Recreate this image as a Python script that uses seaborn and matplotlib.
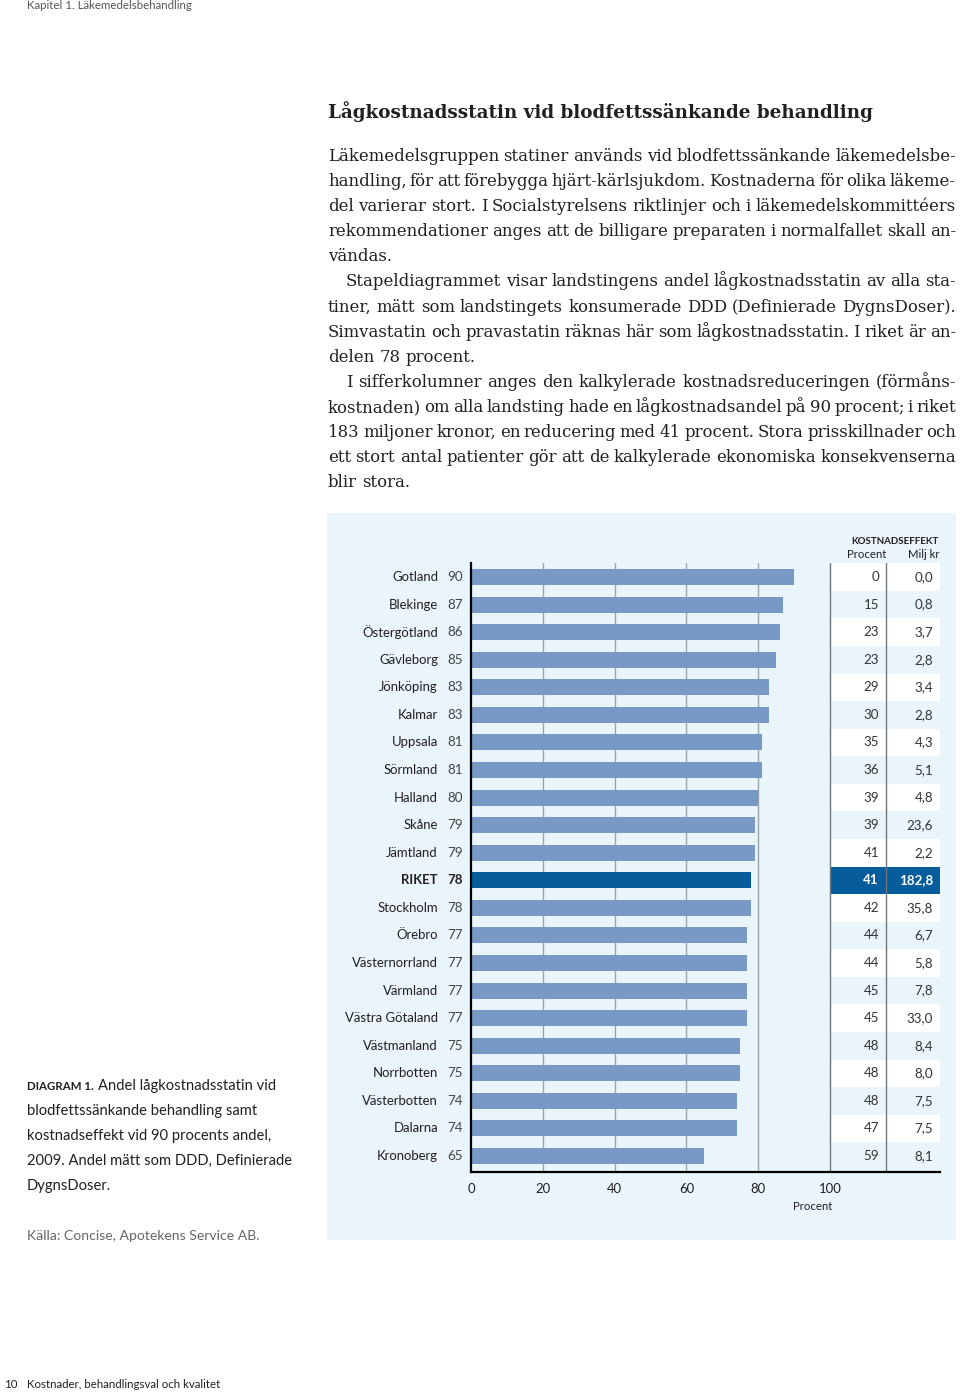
import matplotlib
matplotlib.use("Agg")
import matplotlib.pyplot as plt
import seaborn as sns
import pandas as pd
from matplotlib.patches import Rectangle

# ---------------- data ----------------
regions = ["Gotland", "Blekinge", "Östergötland", "Gävleborg", "Jönköping", "Kalmar",
           "Uppsala", "Sörmland", "Halland", "Skåne", "Jämtland", "RIKET", "Stockholm",
           "Örebro", "Västernorrland", "Värmland", "Västra Götaland", "Västmanland",
           "Norrbotten", "Västerbotten", "Dalarna", "Kronoberg"]
andel = [90, 87, 86, 85, 83, 83, 81, 81, 80, 79, 79, 78, 78, 77, 77, 77, 77, 75, 75, 74, 74, 65]
kost_procent = [0, 15, 23, 23, 29, 30, 35, 36, 39, 39, 41, 41, 42, 44, 44, 45, 45, 48, 48, 48, 47, 59]
kost_milj = [0.0, 0.8, 3.7, 2.8, 3.4, 2.8, 4.3, 5.1, 4.8, 23.6, 2.2, 182.8, 35.8, 6.7, 5.8,
             7.8, 33.0, 8.4, 8.0, 7.5, 7.5, 8.1]
xticks = [0, 20, 40, 60, 80, 100]
highlight = "RIKET"

title = "Lågkostnadsstatin vid blodfettssänkande behandling"
body_lines = [
    ("Läkemedelsgruppen statiner används vid blodfettssänkande läkemedelsbe-", False, True),
    ("handling, för att förebygga hjärt-kärlsjukdom. Kostnaderna för olika läkeme-", False, True),
    ("del varierar stort. I Socialstyrelsens riktlinjer och i läkemedelskommittéers", False, True),
    ("rekommendationer anges att de billigare preparaten i normalfallet skall an-", False, True),
    ("vändas.", False, False),
    ("Stapeldiagrammet visar landstingens andel lågkostnadsstatin av alla sta-", True, True),
    ("tiner, mätt som landstingets konsumerade DDD (Definierade DygnsDoser).", False, True),
    ("Simvastatin och pravastatin räknas här som lågkostnadsstatin. I riket är an-", False, True),
    ("delen 78 procent.", False, False),
    ("I sifferkolumner anges den kalkylerade kostnadsreduceringen (förmåns-", True, True),
    ("kostnaden) om alla landsting hade en lågkostnadsandel på 90 procent; i riket", False, True),
    ("183 miljoner kronor, en reducering med 41 procent. Stora prisskillnader och", False, True),
    ("ett stort antal patienter gör att de kalkylerade ekonomiska konsekvenserna", False, True),
    ("blir stora.", False, False),
]
caption_lead = "DIAGRAM 1."
caption_lines = ["Andel lågkostnadsstatin vid", "blodfettssänkande behandling samt",
                 "kostnadseffekt vid 90 procents andel,", "2009. Andel mätt som DDD, Definierade",
                 "DygnsDoser."]
source = "Källa: Concise, Apotekens Service AB."
header = "Kapitel 1. Läkemedelsbehandling"
footer_page = "10"
footer = "Kostnader, behandlingsval och kvalitet"

# ---------------- style ----------------
sns.set_theme(style="white")
SANS = ["Lato", "DejaVu Sans"]
SERIF = ["DejaVu Serif"]
plt.rcParams["font.family"] = SANS

BG = "#eaf4fb"
BAR = "#7898c6"
DARK = "#075c9c"
TXT = "#231f20"
GRID = "#9aa3ac"

W, H = 960, 1393
fig = plt.figure(figsize=(W / 100, H / 100), dpi=100, facecolor="white")
renderer = fig.canvas.get_renderer()


def fx(px):
    return px / W


def fy(py):
    return 1 - py / H


def measure(s, **kw):
    t = fig.text(0, 0, s, **kw)
    w = t.get_window_extent(renderer).width
    t.remove()
    return w


def fit_size(s, width_px, base=10, **kw):
    return base * width_px / measure(s, size=base, **kw)


# panel background
fig.patches.append(Rectangle((fx(327), fy(1240)), fx(956) - fx(327), (1240 - 513) / H,
                             transform=fig.transFigure, facecolor=BG, edgecolor="none", zorder=-10))

# ---------------- chart ----------------
df = pd.DataFrame({"region": regions, "andel": andel,
                   "grp": ["h" if r == highlight else "n" for r in regions]})

ax = fig.add_axes([fx(471), 221 / H, (940 - 471) / W, (1172 - 563) / H])
ax.set_zorder(5)
ax.set_facecolor("none")
XMAX = 100 * (940 - 471) / (830 - 471)

sns.barplot(data=df, x="andel", y="region", hue="grp", palette={"n": BAR, "h": DARK},
            dodge=False, legend=False, width=0.58, linewidth=0, saturation=1, ax=ax, zorder=2)

n = len(regions)
ax.set_xlim(0, XMAX)
ax.set_ylim(n - 1 + 0.58, -0.51)

# grid lines
for t in xticks[1:-1]:
    ax.plot([t, t], [n - 1 + 0.58, -0.51], color=GRID, lw=1, zorder=1)

# table bands
DIV = 100 + (886 - 830) / 3.59
for i, r in enumerate(regions):
    if r == highlight:
        c = DARK
    else:
        c = "white" if i % 2 == 0 else BG
    top = -0.51 if i == 0 else i - 0.5
    bot = n - 1 + 0.58 if i == n - 1 else i + 0.5
    ax.add_patch(Rectangle((100, top), XMAX - 100, bot - top, facecolor=c, edgecolor="none", zorder=0.5))
for xv in (100, DIV):
    ax.plot([xv, xv], [n - 1 + 0.58, -0.51], color="#6e767e", lw=1, zorder=3)

for s in ("top", "right"):
    ax.spines[s].set_visible(False)
for s in ("left", "bottom"):
    ax.spines[s].set_color("black")
    ax.spines[s].set_linewidth(1.6)
    ax.spines[s].set_zorder(4)

lab_size = fit_size("Östergötland", 76, family=SANS)
num_size = lab_size * 1.02
ax.set_xticks(xticks)
ax.set_xticklabels([str(t) for t in xticks])
ax.tick_params(axis="x", length=0, pad=8, labelsize=lab_size, labelcolor=TXT)
ax.set_yticks([])
ax.set_xlabel("")
ax.set_ylabel("")

for i, (r, v, p, m) in enumerate(zip(regions, andel, kost_procent, kost_milj)):
    hl = r == highlight
    wt = "bold" if hl else "normal"
    ax.annotate(r, xy=(0, i), xytext=(-33, 0), textcoords="offset pixels", ha="right",
                va="center", size=lab_size, color=TXT, weight=wt)
    ax.annotate(str(v), xy=(0, i), xytext=(-8, 0), textcoords="offset pixels", ha="right",
                va="center", size=num_size, color=TXT if hl else "#444444", weight=wt)
    tc = "white" if hl else "#333333"
    ax.annotate(str(p), xy=(100, i), xytext=(49, 0), textcoords="offset pixels", ha="right",
                va="center", size=num_size, color=tc, weight=wt)
    ax.annotate(f"{m:.1f}".replace(".", ","), xy=(100, i), xytext=(103, 0),
                textcoords="offset pixels", ha="right", va="center", size=num_size,
                color=tc, weight=wt)

# table header
fig.text(fx(939), fy(541), "KOSTNADSEFFEKT", ha="right", va="center", size=lab_size * 0.74,
         weight="bold", color=TXT)
fig.text(fx(867), fy(554), "Procent", ha="center", va="center", size=lab_size * 0.87, color=TXT)
fig.text(fx(939), fy(554), "Milj kr", ha="right", va="center", size=lab_size * 0.87, color=TXT)
fig.text(fx(813), fy(1207), "Procent", ha="center", va="center", size=lab_size * 0.87, color=TXT)

# ---------------- text ----------------
title_size = fit_size(title, 547, family=SERIF, weight="bold")
fig.text(fx(328), fy(118), title, ha="left", va="baseline", size=title_size,
         family=SERIF, weight="bold", color=TXT)

X0, X1, IND = 328, 956, 346


def layout(size):
    sp = measure("a a", size=size, family=SERIF) - 2 * measure("a", size=size, family=SERIF)
    rows = []
    min_rel = 10.0
    for line, ind, just in body_lines:
        x = IND if ind else X0
        words = line.split(" ")
        widths = [measure(w, size=size, family=SERIF) for w in words]
        if just and len(words) > 1:
            gap = (X1 - x - sum(widths)) / (len(words) - 1)
            min_rel = min(min_rel, gap / sp)
        else:
            gap = sp
        rows.append((x, words, widths, gap))
    return rows, min_rel


body_size = 12.0
rows, min_rel = layout(body_size)
while min_rel < 0.6 and body_size > 8:
    body_size -= 0.1
    rows, min_rel = layout(body_size)

for k, (x, words, widths, gap) in enumerate(rows):
    y = 161 + k * 25.1
    for w, wd in zip(words, widths):
        fig.text(fx(x), fy(y), w, ha="left", va="baseline", size=body_size, family=SERIF, color=TXT)
        x += wd + gap

# caption
cap_size = fit_size(caption_lines[1], 230, family=SANS)
lead_size = cap_size * 0.78
fig.text(fx(27), fy(1090), caption_lead, ha="left", va="baseline", size=lead_size,
         weight="bold", color=TXT)
lead_w = measure(caption_lead + " ", size=lead_size, weight="bold")
for k, line in enumerate(caption_lines):
    x = 27 + (lead_w + 2 if k == 0 else 0)
    fig.text(fx(x), fy(1090 + k * 25), line, ha="left", va="baseline", size=cap_size, color=TXT)
fig.text(fx(27), fy(1240), source, ha="left", va="baseline", size=cap_size * 0.95, color="#666666")

fig.text(fx(27), fy(9), header, ha="left", va="baseline", size=cap_size * 0.78, color="#555555")
fig.text(fx(4), fy(1388), footer_page, ha="left", va="baseline", size=cap_size * 0.78, color=TXT)
fig.text(fx(27), fy(1388), footer, ha="left", va="baseline", size=cap_size * 0.78, color=TXT)

fig.savefig("out.png", dpi=100, facecolor="white")
